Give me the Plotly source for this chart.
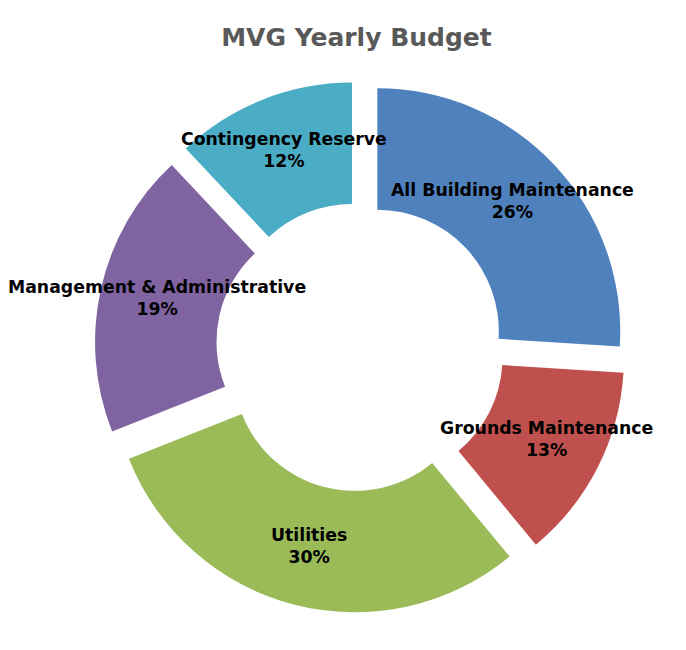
import math
import plotly.graph_objects as go

# budget shares, clockwise from 12 o'clock
categories = ["All Building Maintenance", "Grounds Maintenance", "Utilities",
              "Management & Administrative", "Contingency Reserve"]
shares = [26, 13, 30, 19, 12]
colors = ["#4F81BD", "#C0504D", "#9BBB59", "#8064A2", "#4BACC6"]

W, H = 686, 650
margin = dict(l=19, r=0, t=73, b=45)
PULL = 0.095
HOLE = 0.5
LABEL_R = 0.86  # label distance from centre, as a fraction of the radius

fig = go.Figure()
fig.add_pie(
    labels=categories, values=shares, sort=False, direction="clockwise",
    rotation=0, hole=HOLE, pull=[PULL] * len(shares),
    marker=dict(colors=colors, line=dict(width=0)),
    textposition="none", hoverinfo="label+percent", showlegend=False,
)

# put the labels on each pulled ring segment (same geometry plotly uses)
pw = W - margin["l"] - margin["r"]
ph = H - margin["t"] - margin["b"]
R = min(pw, ph) / (2 + 2 * PULL)
cx, cy = pw / 2, ph / 2
rho = R * LABEL_R
total = sum(shares)
cum = 0
annotations = []
for name, v in zip(categories, shares):
    mid = 2 * math.pi * (cum + v / 2) / total
    cum += v
    px = cx + rho * math.sin(mid)
    py = cy - rho * math.cos(mid) - 3
    annotations.append(dict(
        x=px / pw, y=1 - py / ph, xref="paper", yref="paper",
        text="<b>%s</b><br><b>%d%%</b>" % (name, round(100 * v / total)),
        showarrow=False, xanchor="center", yanchor="middle",
        font=dict(family="DejaVu Sans", size=17.3, color="black"),
    ))

fig.update_layout(
    width=W, height=H, margin=margin,
    paper_bgcolor="white", plot_bgcolor="white",
    title=dict(text="<b>MVG Yearly Budget</b>", x=0.508, xanchor="center",
               y=0.955, yanchor="middle",
               font=dict(family="DejaVu Sans", size=25, color="#595959")),
    annotations=annotations,
)

fig.write_html("out.html")
